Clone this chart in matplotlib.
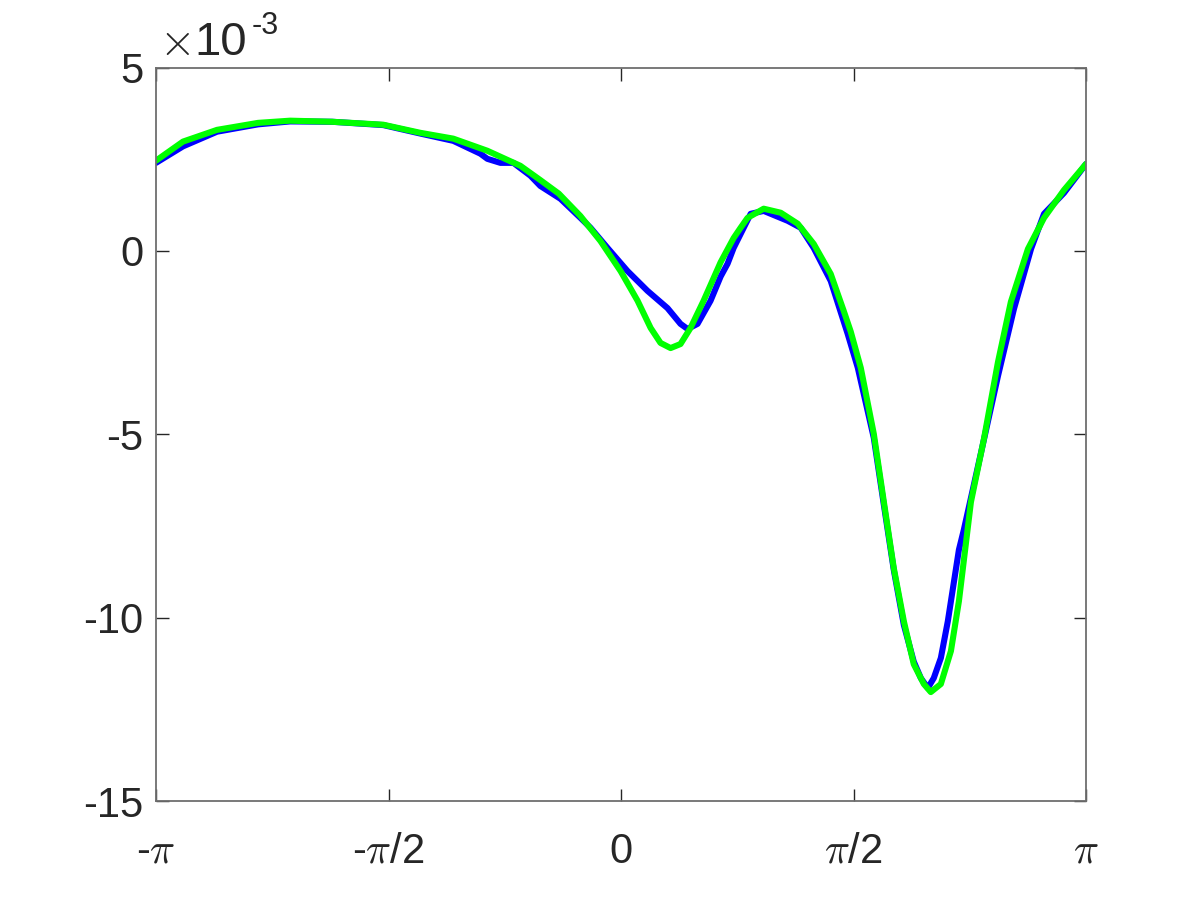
import numpy as np
import matplotlib
matplotlib.use("Agg")
import matplotlib.pyplot as plt

plt.rcParams['font.family'] = ['Liberation Sans', 'DejaVu Sans']
plt.rcParams['mathtext.fontset'] = 'cm'

# data (x in radians, y in units of 1e-3)
blue_x = [-3.1416, -2.959, -2.729, -2.452, -2.235, -1.951, -1.606, -1.357, -1.133, -0.950,
          -0.903, -0.815, -0.727, -0.612, -0.545, -0.409, -0.274, -0.206, -0.091, 0.044,
          0.179, 0.314, 0.402, 0.450, 0.517, 0.605, 0.673, 0.720, 0.761, 0.876,
          0.964, 1.126, 1.214, 1.302, 1.417, 1.532, 1.600, 1.708, 1.775, 1.843,
          1.911, 1.978, 2.026, 2.073, 2.113, 2.161, 2.208, 2.283, 2.316, 2.432,
          2.547, 2.655, 2.770, 2.858, 2.993, 3.1416]
blue_y = [2.40, 2.85, 3.25, 3.45, 3.53, 3.52, 3.43, 3.20, 3.00, 2.65,
          2.51, 2.40, 2.40, 2.05, 1.77, 1.42, 0.90, 0.63, 0.08, -0.55,
          -1.09, -1.56, -1.99, -2.13, -1.99, -1.36, -0.70, -0.35, 0.08, 1.01,
          1.09, 0.82, 0.63, 0.08, -0.82, -2.27, -3.19, -5.10, -6.90, -8.70,
          -10.20, -11.20, -11.65, -11.92, -11.65, -11.10, -10.10, -8.15, -7.61, -5.51,
          -3.41, -1.58, 0.05, 1.01, 1.58, 2.37]

green_x = [-3.1416, -2.959, -2.729, -2.452, -2.235, -1.951, -1.606, -1.357, -1.133, -0.903,
           -0.680, -0.545, -0.420, -0.274, -0.139, -0.003, 0.112, 0.200, 0.267, 0.335,
           0.402, 0.470, 0.558, 0.673, 0.761, 0.808, 0.855, 0.964, 1.079, 1.194,
           1.302, 1.417, 1.505, 1.552, 1.620, 1.708, 1.775, 1.843, 1.911, 1.978,
           2.046, 2.093, 2.161, 2.229, 2.283, 2.364, 2.452, 2.547, 2.634, 2.749,
           2.858, 2.993, 3.1416]
green_y = [2.46, 2.98, 3.30, 3.49, 3.55, 3.52, 3.44, 3.22, 3.06, 2.73,
           2.32, 1.93, 1.56, 0.95, 0.27, -0.55, -1.36, -2.10, -2.51, -2.65,
           -2.54, -2.10, -1.36, -0.31, 0.35, 0.63, 0.90, 1.15, 1.04, 0.74,
           0.19, -0.63, -1.64, -2.20, -3.19, -4.99, -6.82, -8.65, -10.10, -11.27,
           -11.81, -12.03, -11.81, -10.91, -9.55, -6.85, -5.13, -3.03, -1.39, 0.05,
           0.90, 1.66, 2.37]

xticks = [-np.pi, -np.pi / 2, 0, np.pi / 2, np.pi]
xticklabels = [r'-$\pi$', r'-$\pi$/2', '0', r'$\pi$/2', r'$\pi$']
yticks = [5, 0, -5, -10, -15]
yticklabels = ['5', '0', '-5', '-10', '-15']

fig = plt.figure(figsize=(12, 9), dpi=100)
ax = fig.add_axes([0.13, 0.11, 0.775, 0.815])
ax.plot(blue_x, blue_y, color='#0000ff', lw=4.4, solid_joinstyle='round', solid_capstyle='round')
ax.plot(green_x, green_y, color='#00ff00', lw=4.4, solid_joinstyle='round', solid_capstyle='round')

ax.set_xlim(-np.pi, np.pi)
ax.set_ylim(-15, 5)
ax.set_xticks(xticks)
ax.set_xticklabels(xticklabels)
ax.set_yticks(yticks)
ax.set_yticklabels(yticklabels)
tc = '#262626'
ax.tick_params(direction='in', length=9, width=1, colors=tc, labelsize=30,
               top=True, right=True)
ax.tick_params(axis='y', pad=9)
ax.tick_params(axis='x', pad=22)
for s in ax.spines.values():
    s.set_color('#6e6e6e')
    s.set_linewidth(1.3)

# exponent label
fig.text(159 / 1200, 1 - 55 / 900, r'$\times$', fontsize=33, color=tc, ha='left', va='baseline')
fig.text(194 / 1200, 1 - 55 / 900, '10', fontsize=34, color=tc, ha='left', va='baseline')
fig.text(252 / 1200, 1 - 34 / 900, '-3', fontsize=22, color=tc, ha='left', va='baseline')

fig.savefig('out.png', dpi=100)
